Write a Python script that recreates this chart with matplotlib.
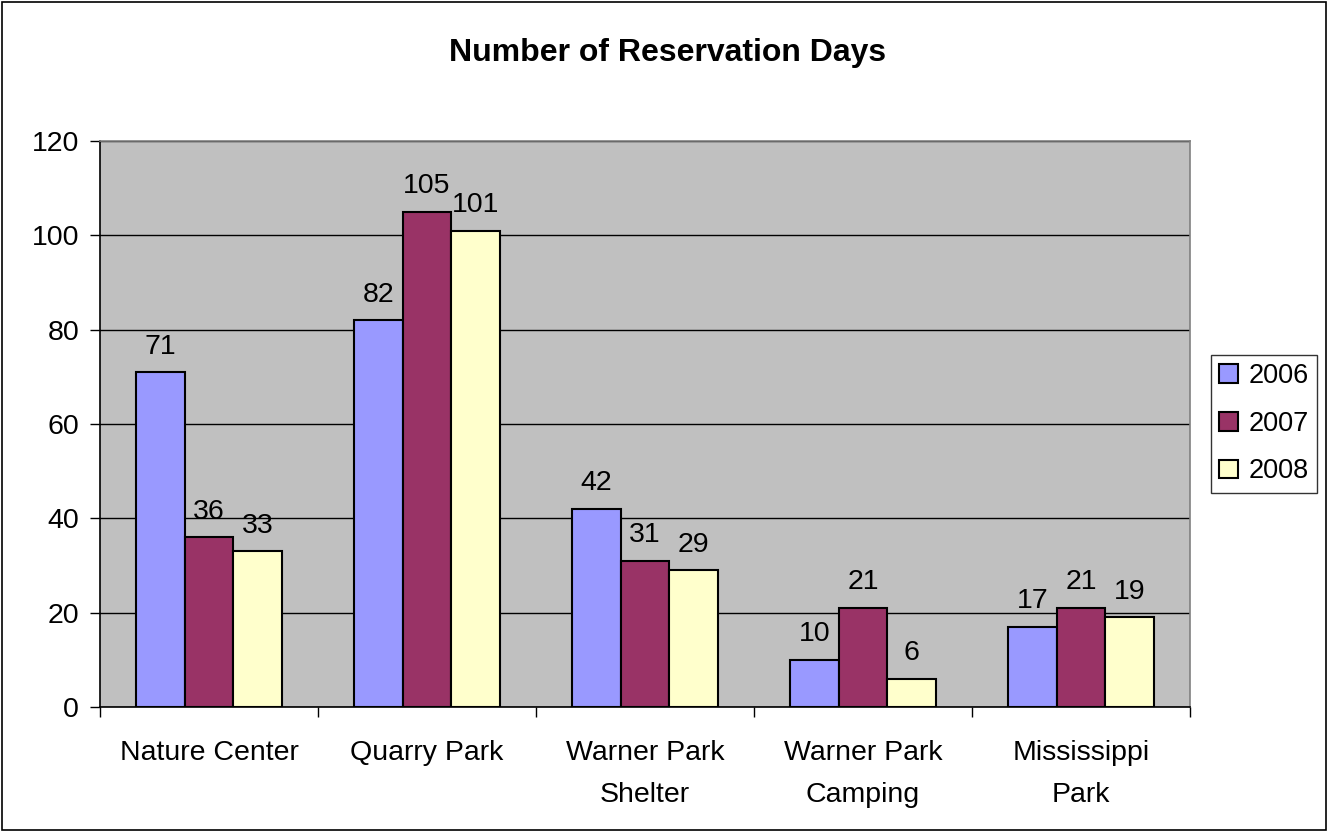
import matplotlib
matplotlib.use('Agg')
import matplotlib.pyplot as plt
import numpy as np
from matplotlib.patches import Rectangle

plt.rcParams['font.family'] = ['Liberation Sans', 'DejaVu Sans']

categories = ['Nature Center', 'Quarry Park', 'Warner Park\nShelter',
              'Warner Park\nCamping', 'Mississippi\nPark']
years = ['2006', '2007', '2008']
days_2006 = [71, 82, 42, 10, 17]
days_2007 = [36, 105, 31, 21, 21]
days_2008 = [33, 101, 29, 6, 19]
colors = ['#9999FF', '#993366', '#FFFFCC']

FS = 20.5

fig = plt.figure(figsize=(13.28, 8.32), dpi=100)
ax = fig.add_axes([100/1328, 1 - 707/832, 1090/1328, 566/832])
ax.set_facecolor('#C0C0C0')

x = np.arange(len(categories))
w = 0.223
series = [days_2006, days_2007, days_2008]
for i, (vals, c, yr) in enumerate(zip(series, colors, years)):
    xs = x + (i - 1) * w
    ax.bar(xs, vals, width=w, color=c, edgecolor='black', linewidth=1.5,
           label=yr, zorder=3)
    for xi, v in zip(xs, vals):
        ax.annotate(str(v), (xi, v), xytext=(0, 9), textcoords='offset points',
                    ha='center', va='bottom', fontsize=FS)

ax.set_xlim(-0.5, len(categories) - 0.5)
ax.set_ylim(0, 120)
ax.set_yticks(range(0, 121, 20))
ax.yaxis.grid(True, color='black', linewidth=1, zorder=0)
ax.set_axisbelow(True)

ax.set_xticks(x)
ax.set_xticklabels(categories, fontsize=FS, linespacing=1.8)
ax.set_xticks(np.arange(-0.5, len(categories)), minor=True)
ax.tick_params(axis='x', which='major', length=0, pad=24)
ax.tick_params(axis='x', which='minor', length=7, width=1, direction='out')
ax.tick_params(axis='y', length=7, width=1, direction='out', labelsize=FS, pad=8)

ax.spines['left'].set_color('black')
ax.spines['bottom'].set_color('black')
ax.spines['top'].set_color('#808080')
ax.spines['right'].set_color('#808080')
for s in ax.spines.values():
    s.set_linewidth(1.2)

fig.text(668/1328, 1 - 53/832, 'Number of Reservation Days', ha='center',
         va='center', fontsize=23, fontweight='bold')

leg = fig.legend(loc='upper left', bbox_to_anchor=(1211/1328, 1 - 355/832),
                 borderaxespad=0, fontsize=19.5, fancybox=False, frameon=True,
                 edgecolor='black', handlelength=0.7, handleheight=0.7,
                 handletextpad=0.4, labelspacing=0.8, borderpad=0.3)
leg.get_frame().set_linewidth(1)

# border around the whole chart
fig.add_artist(Rectangle((2/1328, 2/832), 1 - 4/1328, 1 - 4/832,
                         transform=fig.transFigure, fill=False,
                         edgecolor='black', linewidth=1.2))

fig.savefig('out.png', dpi=100)
